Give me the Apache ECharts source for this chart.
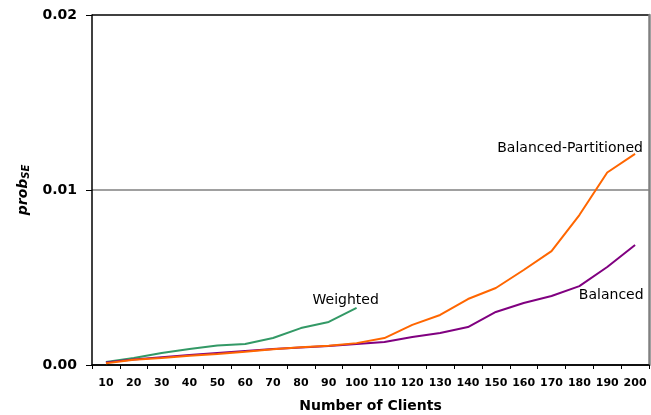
<!DOCTYPE html>
<html>
<head>
<meta charset="utf-8">
<script src="https://cdn.jsdelivr.net/npm/echarts@6/dist/echarts.min.js"></script>
<style>html,body{margin:0;padding:0;background:#fff;}#c{width:651px;height:415px;}</style>
</head>
<body>
<div id="c"></div>
<script>
const categories = ['10','20','30','40','50','60','70','80','90','100','110','120','130','140','150','160','170','180','190','200'];
const weighted = [0.00017,0.0004,0.00069,0.00091,0.00112,0.0012,0.00154,0.00211,0.00246,0.00326];
const balancedPartitioned = [0.0001,0.0003,0.0004,0.00053,0.00063,0.00076,0.0009,0.00102,0.0011,0.00125,0.00154,0.00229,0.00286,0.00377,0.0044,0.00543,0.00651,0.00857,0.011,0.01206];
const balanced = [0.00015,0.00032,0.00045,0.00057,0.00069,0.0008,0.00091,0.001,0.00108,0.0012,0.00131,0.0016,0.00183,0.00217,0.00303,0.00354,0.00394,0.00451,0.0056,0.00686];
const yTicks = [0, 0.01, 0.02];

const font = '"DejaVu Sans", Arial, sans-serif';
function withLabel(arr, idx, text, pos, offset) {
  return arr.map((v, i) => i === idx ? {
    value: v,
    label: { show: true, formatter: text, position: pos, offset: offset,
      color: '#000', fontFamily: font, fontSize: 14, fontWeight: 'normal' }
  } : v);
}
const chart = echarts.init(document.getElementById('c'), null, {renderer: 'canvas'});
chart.setOption({
  animation: false,
  backgroundColor: '#fff',
  grid: { left: 92, right: 2, top: 15, bottom: 50, containLabel: false, outerBoundsMode: 'none' },
  xAxis: {
    type: 'category', data: categories, boundaryGap: true,
    name: 'Number of Clients', nameLocation: 'middle', nameGap: 34,
    nameTextStyle: { fontFamily: font, fontSize: 14, fontWeight: 'bold', color: '#000' },
    axisLine: { lineStyle: { color: '#000', width: 1.5 } },
    axisTick: { show: true, length: 4, alignWithLabel: false, lineStyle: { color: '#000' } },
    axisLabel: { fontFamily: font, fontSize: 11, fontWeight: 'bold', color: '#000', margin: 13, interval: 0 },
    splitLine: { show: false }
  },
  yAxis: [{
    type: 'value', min: yTicks[0], max: yTicks[2], interval: 0.01,
    name: '{a|prob}{b|SE}', nameLocation: 'middle', nameGap: 58, nameRotate: 90,
    nameTextStyle: { rich: {
      a: { fontFamily: font, fontSize: 14, fontWeight: 'bold', fontStyle: 'italic', color: '#000' },
      b: { fontFamily: font, fontSize: 10, fontWeight: 'bold', fontStyle: 'italic', color: '#000', verticalAlign: 'bottom', padding: [6,0,0,0] }
    } },
    axisLine: { show: true, lineStyle: { color: '#000', width: 1.5 } },
    axisTick: { show: true, length: 6, lineStyle: { color: '#000' } },
    axisLabel: { fontFamily: font, fontSize: 14, fontWeight: 'bold', color: '#000', margin: 15,
      formatter: v => v.toFixed(2) },
    splitLine: { show: true, lineStyle: { color: ['#000', '#808080', '#000'], width: 1.5 } }
  }, {
    type: 'value', position: 'right', min: yTicks[0], max: yTicks[2], interval: 0.01,
    axisLine: { show: true, lineStyle: { color: '#808080', width: 2.5 } },
    axisTick: { show: false }, axisLabel: { show: false }, splitLine: { show: false }
  }],
  series: [
    { name: 'Weighted', type: 'line', data: withLabel(weighted, 8, 'Weighted', 'top', [17, -10]),
      symbol: 'circle', symbolSize: 0, showSymbol: true,
      lineStyle: { color: '#339966', width: 2 }, itemStyle: { color: '#339966' } },
    { name: 'Balanced', type: 'line', data: withLabel(balanced, 18, 'Balanced', 'bottom', [4, 16]),
      symbol: 'circle', symbolSize: 0, showSymbol: true,
      lineStyle: { color: '#800080', width: 2 }, itemStyle: { color: '#800080' } },
    { name: 'Balanced-Partitioned', type: 'line', data: withLabel(balancedPartitioned, 19, 'Balanced-Partitioned', 'top', [-65, 6]),
      symbol: 'circle', symbolSize: 0, showSymbol: true,
      lineStyle: { color: '#FF6600', width: 2 }, itemStyle: { color: '#FF6600' } }
  ]
});
</script>
</body>
</html>
